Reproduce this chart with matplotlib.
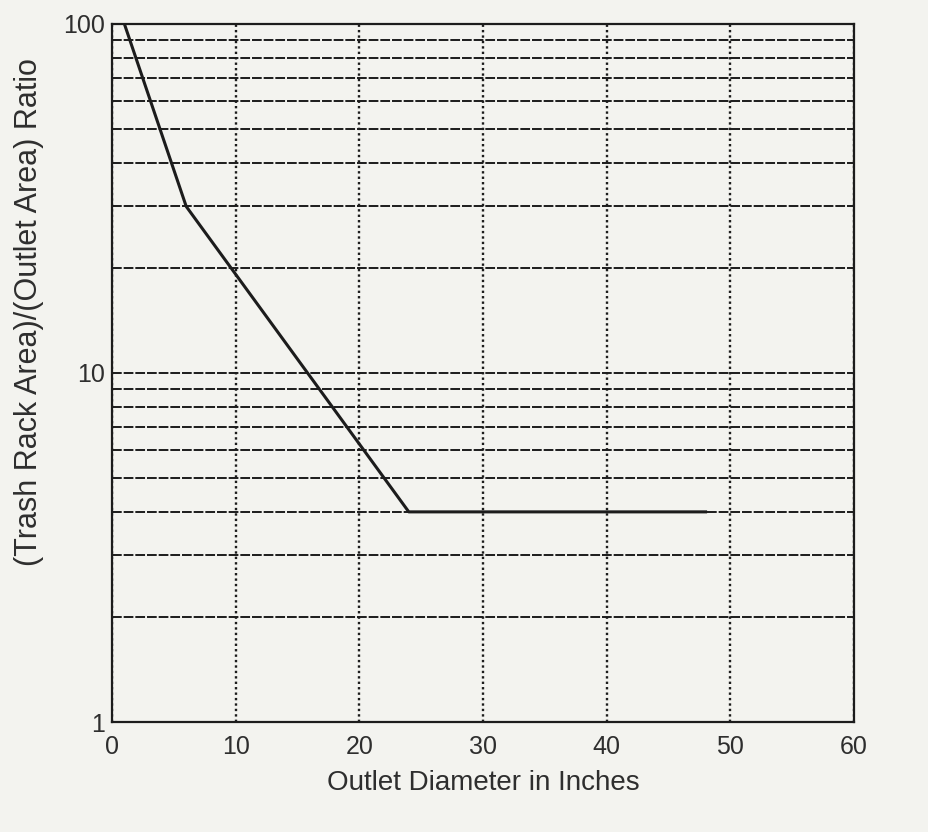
import matplotlib.pyplot as plt
from matplotlib.ticker import FixedLocator, LogLocator, NullFormatter

# Design curve: trash rack area ratio vs outlet diameter
diameter_in = [1, 6, 24, 48]
area_ratio = [100, 30, 4, 4]

x_ticks = [0, 10, 20, 30, 40, 50, 60]
y_ticks = [1, 10, 100]
y_tick_labels = ["1", "10", "100"]

plt.rcParams['font.family'] = ['Liberation Sans', 'DejaVu Sans']

paper = '#f3f3ef'
ink = '#1c1c1c'
text_ink = '#2e2e2e'

fig = plt.figure(figsize=(9.29, 8.32), dpi=100, facecolor=paper)
ax = fig.add_axes([0.1206, 0.1322, 0.7986, 0.8390], facecolor=paper)

ax.set_yscale('log')
ax.set_xlim(0, 60)
ax.set_ylim(1, 100)

ax.xaxis.set_major_locator(FixedLocator(x_ticks))
ax.yaxis.set_major_locator(FixedLocator(y_ticks))
ax.set_yticklabels(y_tick_labels)
ax.yaxis.set_minor_locator(LogLocator(base=10, subs=range(2, 10)))
ax.yaxis.set_minor_formatter(NullFormatter())

# vertical grid dotted, horizontal grid densely dashed
ax.grid(True, axis='x', which='major', color=ink, linestyle=(0, (1.0, 1.3)),
        linewidth=1.7)
ax.grid(True, axis='y', which='both', color=ink, linestyle=(0, (5, 1)),
        linewidth=1.4)

ax.plot(diameter_in, area_ratio, color=ink, linewidth=2.2, zorder=3)

for side in ax.spines.values():
    side.set_color(ink)
    side.set_linewidth(1.6)

ax.tick_params(axis='both', which='both', length=0, labelsize=18,
               colors=text_ink)
ax.tick_params(axis='x', pad=9)
ax.tick_params(axis='y', pad=5)

ax.set_xlabel('Outlet Diameter in Inches', fontsize=20, color=text_ink,
              labelpad=8)
ax.set_ylabel('(Trash Rack Area)/(Outlet Area) Ratio', fontsize=22,
              color=text_ink)
ax.yaxis.set_label_coords(-0.092, 0.587)

fig.savefig('out.png', dpi=100, facecolor=paper)
